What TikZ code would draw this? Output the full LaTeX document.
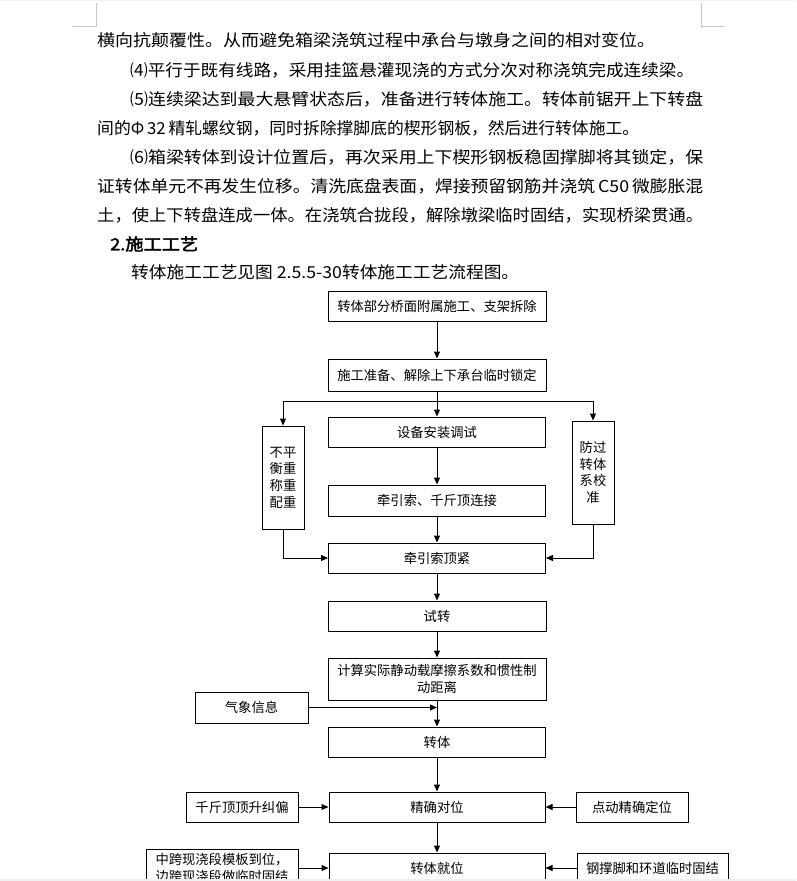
\documentclass[tikz,border=0pt]{standalone}
\usepackage{graphicx}
\usepackage{fontspec}
\setmainfont{Noto Sans CJK SC}
\newfontfamily\cjk{Noto Sans CJK SC}
\newfontfamily\cjkb[FakeBold=2.5]{Noto Sans CJK SC}
\usetikzlibrary{arrows.meta}
\newcommand\stretchline[2]{\resizebox{#1pt}{\height}{#2}}
\begin{document}
\begin{tikzpicture}[x=1pt,y=-1pt,
  box/.style={draw, line width=1pt, inner sep=0pt, align=center, font=\cjk\fontsize{13.3}{16.7}\selectfont},
  arr/.style={line width=1pt, -{Triangle[length=7pt,width=6pt]}},
  ln/.style={line width=1pt},
  para/.style={anchor=west, inner sep=0pt, font=\cjk\fontsize{16.5}{20}\selectfont},
  mark/.style={draw=gray!45, line width=1pt}]
\useasboundingbox (0,0) rectangle (796,881);
\fill[white] (0,0) rectangle (796,881);
\clip (0,0) rectangle (796,881);
\fill[gray!10] (0,0) rectangle (796,1);
% corner marks
\draw[draw=gray!45, line width=1pt] (73,26) -- (96,26) -- (96,3);
\draw[draw=gray!45, line width=1pt] (701,3) -- (701,26) -- (725,26);
% paragraph text
\node[para] (t1) at (97,40) {\stretchline{558}{横向抗颠覆性。从而避免箱梁浇筑过程中承台与墩身之间的相对变位。}};
\node[para] (t2) at (130,70) {\stretchline{564}{⑷平行于既有线路，采用挂篮悬灌现浇的方式分次对称浇筑完成连续梁。}};
\node[para] (t3) at (130,99) {\stretchline{573}{⑸连续梁达到最大悬臂状态后，准备进行转体施工。转体前锯开上下转盘}};
\node[para] (t4) at (97,128) {\stretchline{542}{间的Φ\,32\,精轧螺纹钢，同时拆除撑脚底的楔形钢板，然后进行转体施工。}};
\node[para] (t5) at (130,157) {\stretchline{573}{⑹箱梁转体到设计位置后，再次采用上下楔形钢板稳固撑脚将其锁定，保}};
\node[para] (t6) at (97,186) {\stretchline{606}{证转体单元不再发生位移。清洗底盘表面，焊接预留钢筋并浇筑\,C50\,微膨胀混}};
\node[para] (t7) at (97,215) {\stretchline{606}{土，使上下转盘连成一体。在浇筑合拢段，解除墩梁临时固结，实现桥梁贯通。}};
\node[para, font=\cjkb\fontsize{16.5}{20}\selectfont] (h2) at (110,244) {\stretchline{88}{2.施工工艺}};
\node[para] (t9) at (131,272) {\stretchline{388}{转体施工工艺见图 2.5.5-30转体施工工艺流程图。}};
% flowchart boxes
\node[box, minimum width=218pt, minimum height=30pt] (b1) at (437,306) {转体部分桥面附属施工、支架拆除};
\node[box, minimum width=218pt, minimum height=32pt] (b2) at (437,375) {施工准备、解除上下承台临时锁定};
\node[box, minimum width=217pt, minimum height=30pt] (b3) at (437,432) {设备安装调试};
\node[box, minimum width=217pt, minimum height=31pt] (b4) at (437,500.5) {牵引索、千斤顶连接};
\node[box, minimum width=217pt, minimum height=30pt] (b5) at (437,558) {牵引索顶紧};
\node[box, minimum width=42pt, minimum height=103pt] (lb) at (283,477.5) {不平\\衡重\\称重\\配重};
\node[box, minimum width=42pt, minimum height=103pt] (rb) at (593,472.5) {防过\\转体\\系校\\准};
\node[box, minimum width=218pt, minimum height=30pt] (b6) at (437,616) {试转};
\node[box, minimum width=218pt, minimum height=42pt] (b7) at (437,679) {计算实际静动载摩擦系数和惯性制\\动距离};
\node[box, minimum width=113pt, minimum height=31pt] (wx) at (251.5,707.5) {气象信息};
\node[box, minimum width=217pt, minimum height=30pt] (b8) at (437,742) {转体};
\node[box, minimum width=216pt, minimum height=30pt] (b9) at (437,807) {精确对位};
\node[box, minimum width=112pt, minimum height=30pt] (jk) at (242,807) {千斤顶顶升纠偏};
\node[box, minimum width=112pt, minimum height=30pt] (dd) at (632,807) {点动精确定位};
\node[box, minimum width=216pt, minimum height=30pt] (b10) at (437,868) {转体就位};
\node[box, minimum width=152pt, minimum height=38pt] (mk) at (222,868) {中跨现浇段模板到位，\\边跨现浇段做临时固结};
\node[box, minimum width=151pt, minimum height=30pt] (gc) at (652.5,868) {钢撑脚和环道临时固结};
% connectors
\coordinate (sp) at (437,401);
\draw[arr] (b1) -- (b2);
\draw[arr] (b2) -- (b3);
\draw[arr] (sp) -| (lb.north);
\draw[arr] (sp) -| (rb.north);
\draw[arr] (b3) -- (b4);
\draw[arr] (b4) -- (b5);
\draw[arr] (lb.south) |- (b5.west);
\draw[arr] (rb.south) |- (b5.east);
\draw[arr] (b5) -- (b6);
\draw[arr] (b6) -- (b7);
\draw[arr] (b7) -- (b8);
\draw[arr] (wx.east) -- (wx.east -| b7.south);
\draw[arr] (b8) -- (b9);
\draw[arr] (b9) -- (b10);
\draw[arr] (jk) -- (b9);
\draw[arr] (dd) -- (b9);
\draw[arr] (mk) -- (b10);
\draw[arr] (gc) -- (b10);
\fill[gray!12] (0,879) rectangle (796,881);
\end{tikzpicture}
\end{document}
